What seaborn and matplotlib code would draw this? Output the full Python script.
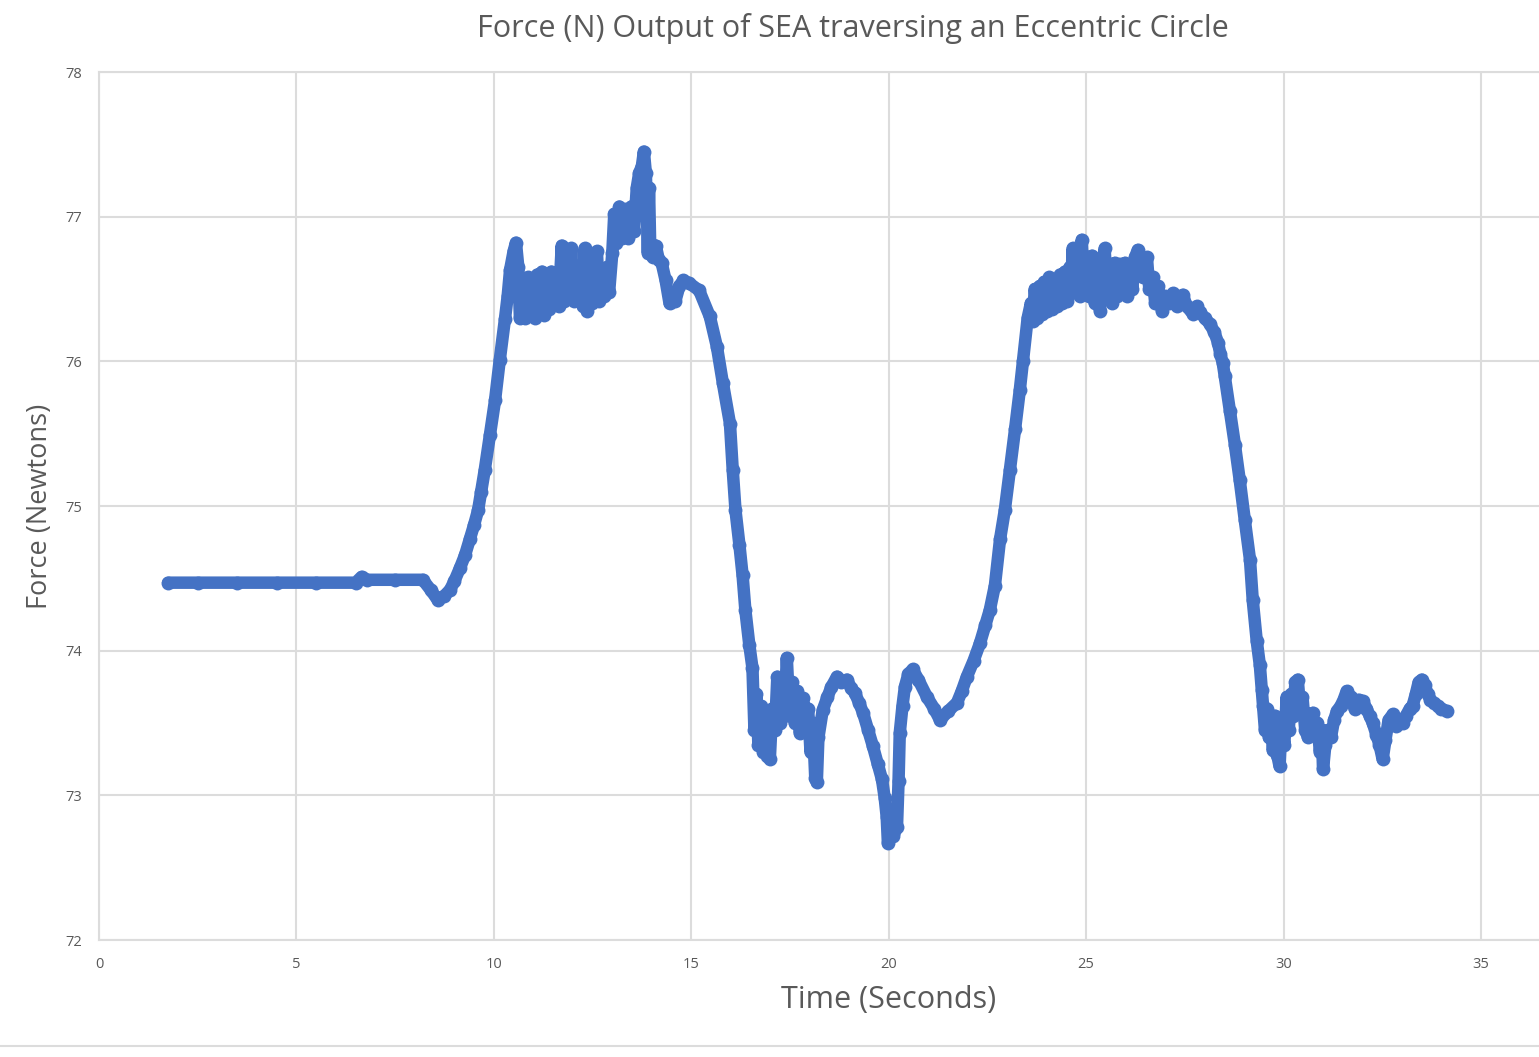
import numpy as np
import pandas as pd
import matplotlib
matplotlib.use("Agg")
import matplotlib.pyplot as plt
import seaborn as sns
from matplotlib.lines import Line2D

# --- datos (tiempo en s, fuerza en N) ---
time_flat = [1.75, 2.5, 3.5, 4.5, 5.5, 6.5, 6.65, 6.8, 7.5, 8.2, 8.4, 8.58, 8.75,
             8.89, 9.0, 9.14, 9.27, 9.39, 9.5, 9.6, 9.68, 9.77, 9.9, 10.03, 10.15,
             10.28, 10.35, 10.41, 10.5, 10.56, 10.62, 10.66]
force_flat = [74.47, 74.47, 74.47, 74.47, 74.47, 74.47, 74.51, 74.49, 74.49, 74.49,
              74.42, 74.35, 74.38, 74.42, 74.48, 74.57, 74.66, 74.77, 74.87, 74.97,
              75.10, 75.25, 75.49, 75.73, 76.01, 76.29, 76.45, 76.63, 76.76, 76.82,
              76.65, 76.30]

time_peak1 = [10.70, 10.75, 10.80, 10.86, 10.92, 10.98, 11.04, 11.10, 11.16, 11.22,
              11.28, 11.34, 11.40, 11.46, 11.52, 11.58, 11.64, 11.72, 11.78, 11.84,
              11.90, 11.96, 12.02, 12.08, 12.14, 12.20, 12.26, 12.30, 12.36, 12.42,
              12.48, 12.54, 12.61, 12.67, 12.73, 12.80, 12.86, 12.92, 13.00, 13.05,
              13.10, 13.18, 13.25, 13.32, 13.40, 13.48, 13.55, 13.62, 13.68, 13.75,
              13.80, 13.85, 13.88, 13.90, 13.93, 13.96, 14.02, 14.10, 14.18, 14.25,
              14.35, 14.45, 14.52, 14.60, 14.70, 14.80, 14.95, 15.20, 15.47, 15.65,
              15.80, 15.98, 16.05, 16.12, 16.22, 16.30, 16.37, 16.47, 16.55]
force_peak1 = [76.35, 76.55, 76.30, 76.58, 76.32, 76.50, 76.30, 76.60, 76.35, 76.62,
               76.32, 76.55, 76.36, 76.62, 76.40, 76.58, 76.38, 76.80, 76.42, 76.62,
               76.45, 76.78, 76.42, 76.65, 76.44, 76.60, 76.38, 76.78, 76.35, 76.62,
               76.40, 76.55, 76.76, 76.42, 76.60, 76.45, 76.65, 76.48, 76.75, 77.02,
               76.82, 77.07, 76.85, 77.05, 76.85, 77.07, 76.90, 77.20, 77.30, 77.35,
               77.45, 77.30, 77.00, 76.75, 77.20, 76.80, 76.72, 76.80, 76.70, 76.68,
               76.56, 76.40, 76.45, 76.42, 76.52, 76.56, 76.54, 76.49, 76.31, 76.10,
               75.85, 75.57, 75.25, 74.97, 74.73, 74.52, 74.28, 74.04, 73.88]

time_low1 = [16.60, 16.65, 16.70, 16.76, 16.82, 16.88, 16.93, 16.99, 17.05, 17.12,
             17.18, 17.24, 17.30, 17.36, 17.42, 17.48, 17.55, 17.62, 17.68, 17.75,
             17.83, 17.90, 17.96, 18.02, 18.08, 18.14, 18.18, 18.22, 18.33, 18.45,
             18.55, 18.69, 18.80, 18.94, 19.05, 19.14, 19.25, 19.35, 19.48, 19.60,
             19.72, 19.83, 19.90, 19.95, 19.98, 20.05, 20.12, 20.21, 20.25, 20.28,
             20.35, 20.41, 20.50, 20.61, 20.75, 20.97, 21.15, 21.30, 21.50, 21.73,
             21.85, 21.98, 22.15, 22.31, 22.45, 22.56, 22.69, 22.82, 22.94, 23.07,
             23.20, 23.32, 23.40, 23.52, 23.60]
force_low1 = [73.45, 73.70, 73.35, 73.62, 73.30, 73.55, 73.27, 73.25, 73.60, 73.45,
              73.82, 73.50, 73.75, 73.55, 73.95, 73.60, 73.78, 73.50, 73.72, 73.43,
              73.67, 73.45, 73.60, 73.30, 73.50, 73.12, 73.09, 73.40, 73.59, 73.68,
              73.75, 73.82, 73.78, 73.80, 73.74, 73.71, 73.64, 73.57, 73.45, 73.34,
              73.22, 73.11, 72.98, 72.85, 72.67, 72.75, 72.72, 72.78, 73.10, 73.43,
              73.62, 73.75, 73.84, 73.87, 73.80, 73.68, 73.60, 73.52, 73.58, 73.64,
              73.72, 73.82, 73.93, 74.05, 74.18, 74.28, 74.45, 74.77, 74.97, 75.25,
              75.53, 75.80, 76.00, 76.30, 76.40]

time_peak2 = [23.65, 23.70, 23.76, 23.82, 23.88, 23.94, 24.01, 24.07, 24.13, 24.20,
              24.27, 24.34, 24.40, 24.46, 24.52, 24.58, 24.62, 24.66, 24.72, 24.78,
              24.84, 24.89, 24.95, 25.02, 25.08, 25.15, 25.22, 25.28, 25.35, 25.41,
              25.47, 25.53, 25.60, 25.66, 25.72, 25.78, 25.85, 25.92, 25.98, 26.03,
              26.10, 26.17, 26.24, 26.31, 26.38, 26.45, 26.54, 26.60, 26.69, 26.75,
              26.82, 26.92, 27.00, 27.10, 27.20, 27.30, 27.45, 27.55, 27.70, 27.80,
              27.88, 28.00, 28.13, 28.25, 28.34, 28.40, 28.46, 28.51, 28.64, 28.77,
              28.89, 29.02, 29.15, 29.22, 29.32, 29.40, 29.45]
force_peak2 = [76.28, 76.50, 76.30, 76.52, 76.33, 76.55, 76.35, 76.58, 76.36, 76.55,
               76.38, 76.60, 76.40, 76.62, 76.42, 76.65, 76.50, 76.78, 76.48, 76.70,
               76.45, 76.84, 76.50, 76.72, 76.45, 76.73, 76.40, 76.62, 76.35, 76.60,
               76.78, 76.45, 76.66, 76.40, 76.68, 76.45, 76.67, 76.48, 76.68, 76.45,
               76.62, 76.50, 76.72, 76.77, 76.70, 76.58, 76.72, 76.50, 76.58, 76.40,
               76.52, 76.35, 76.45, 76.40, 76.47, 76.38, 76.46, 76.38, 76.33, 76.38,
               76.34, 76.30, 76.26, 76.20, 76.13, 76.05, 75.99, 75.90, 75.66, 75.42,
               75.18, 74.90, 74.63, 74.35, 74.07, 73.90, 73.73]

time_low2 = [29.48, 29.53, 29.58, 29.63, 29.68, 29.73, 29.78, 29.84, 29.90, 29.95,
             30.02, 30.08, 30.13, 30.20, 30.25, 30.30, 30.36, 30.42, 30.48, 30.55,
             30.62, 30.68, 30.74, 30.80, 30.86, 30.92, 30.97, 31.00, 31.06, 31.12,
             31.20, 31.28, 31.35, 31.45, 31.52, 31.60, 31.70, 31.80, 31.90, 32.01,
             32.10, 32.18, 32.26, 32.35, 32.43, 32.51, 32.58, 32.66, 32.77, 32.85,
             32.95, 33.02, 33.10, 33.20, 33.27, 33.35, 33.42, 33.50, 33.58, 33.65,
             33.72, 33.80, 33.90, 34.00, 34.14]
force_low2 = [73.62, 73.45, 73.60, 73.40, 73.55, 73.31, 73.55, 73.28, 73.20, 73.50,
              73.35, 73.68, 73.45, 73.70, 73.55, 73.78, 73.80, 73.60, 73.68, 73.45,
              73.40, 73.52, 73.57, 73.42, 73.50, 73.30, 73.45, 73.18, 73.35, 73.45,
              73.40, 73.52, 73.58, 73.62, 73.66, 73.72, 73.68, 73.60, 73.66, 73.65,
              73.60, 73.55, 73.50, 73.42, 73.35, 73.25, 73.38, 73.52, 73.56, 73.48,
              73.52, 73.50, 73.55, 73.60, 73.62, 73.70, 73.78, 73.80, 73.76, 73.70,
              73.66, 73.64, 73.62, 73.60, 73.58]

x_ticks = [0, 5, 10, 15, 20, 25, 30, 35]
y_ticks = [72, 73, 74, 75, 76, 77, 78]

df = pd.DataFrame({
    "time": time_flat + time_peak1 + time_low1 + time_peak2 + time_low2,
    "force": force_flat + force_peak1 + force_low1 + force_peak2 + force_low2,
})

# --- estilo ---
sns.set_style("white")
plt.rcParams["font.family"] = ["Open Sans", "DejaVu Sans"]
BLUE = "#4472c4"
GREY_TXT = "#595959"
GRID = "#dcdcdc"

fig = plt.figure(figsize=(15.39, 10.57), dpi=100)
ax = fig.add_axes([99 / 1539, 117 / 1057, 1 - 99 / 1539, 868 / 1057])

sns.lineplot(data=df, x="time", y="force", ax=ax, color=BLUE, lw=9,
             marker="o", markersize=10, markeredgewidth=0,
             estimator=None, sort=False,
             solid_joinstyle="round", solid_capstyle="round", zorder=3)

ax.set_xlim(0, 36.47)
ax.set_ylim(72, 78)
ax.set_xticks(x_ticks)
ax.set_yticks(y_ticks)
ax.grid(True, color=GRID, lw=1.5, zorder=0)
ax.tick_params(length=0, labelsize=10.5, labelcolor=GREY_TXT, pad=12)
ax.spines["right"].set_visible(False)
for side in ["left", "bottom", "top"]:
    ax.spines[side].set_color(GRID)
    ax.spines[side].set_linewidth(1.5)

ax.set_xlabel("Time (Seconds)", fontsize=22, color=GREY_TXT)
ax.set_ylabel("Force (Newtons)", fontsize=19.5, color=GREY_TXT, labelpad=8)
# el área original era más ancha: el rótulo x queda centrado en x≈20
ax.xaxis.set_label_coords((889 - 99) / 1440, -0.052)

fig.text(853 / 1539, 1 - 28 / 1057, "Force (N) Output of SEA traversing an Eccentric Circle",
         ha="center", va="center", fontsize=22, color=GREY_TXT)

# borde inferior del cuadro del gráfico
fig.add_artist(Line2D([0, 1], [1 - 1046 / 1057] * 2, color=GRID, lw=1.5))

fig.savefig("out.png", dpi=100)
